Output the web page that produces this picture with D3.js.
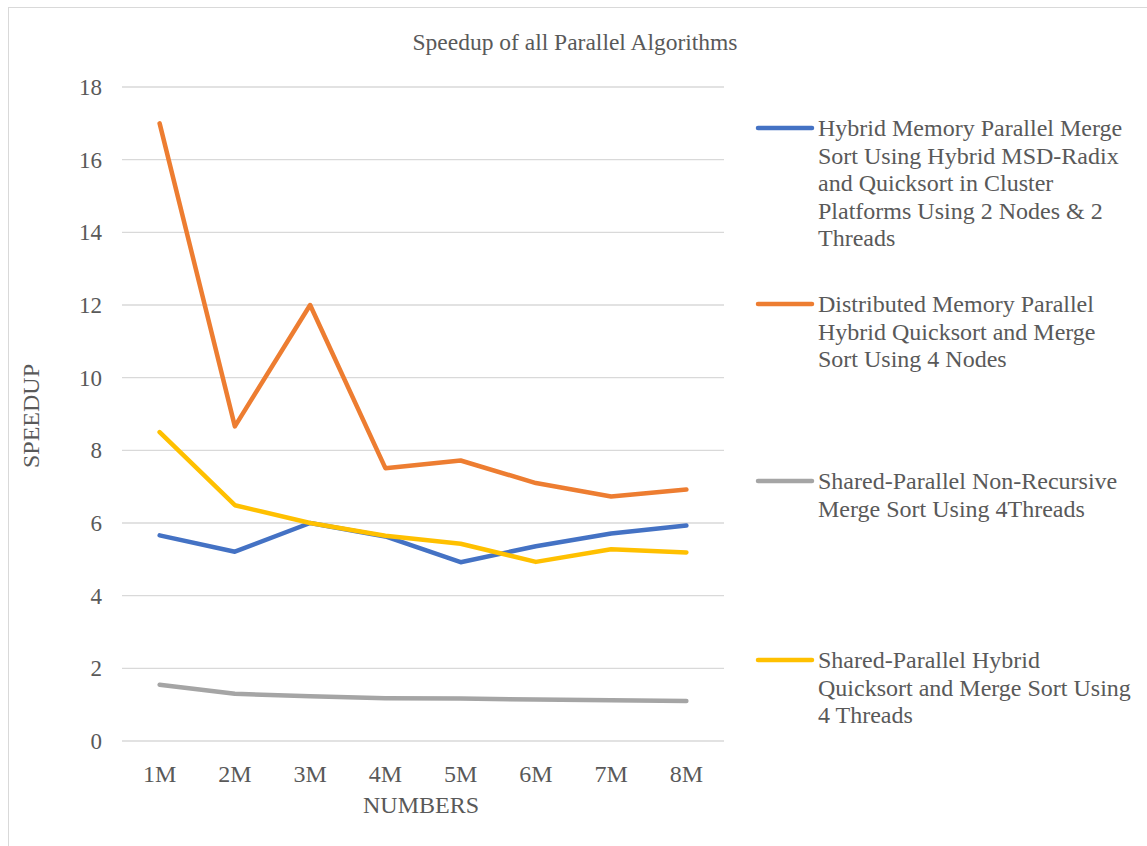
<!DOCTYPE html>
<html>
<head>
<meta charset="utf-8">
<script src="https://cdn.jsdelivr.net/npm/d3@7"></script>
<style>
  body { margin: 0; background: #fff; }
  text { font-family: "Liberation Serif", "Times New Roman", serif; fill: #595959; }
</style>
</head>
<body>
<div id="chart-area"></div>
<script>
const categories = ["1M", "2M", "3M", "4M", "5M", "6M", "7M", "8M"];
const yTicks = [0, 2, 4, 6, 8, 10, 12, 14, 16, 18];

const hybridCluster = [5.66, 5.21, 6.0, 5.63, 4.92, 5.36, 5.71, 5.93];
const distributed = [17.0, 8.66, 12.0, 7.51, 7.72, 7.1, 6.73, 6.92];
const sharedNonRec = [1.55, 1.30, 1.23, 1.18, 1.17, 1.14, 1.12, 1.10];
const sharedHybrid = [8.5, 6.49, 6.0, 5.65, 5.43, 4.93, 5.28, 5.19];

const seriesNames = [
  ["Hybrid Memory Parallel Merge", "Sort Using Hybrid MSD-Radix", "and Quicksort in Cluster", "Platforms Using 2 Nodes & 2", "Threads"],
  ["Distributed Memory Parallel", "Hybrid Quicksort and Merge", "Sort Using 4 Nodes"],
  ["Shared-Parallel Non-Recursive", "Merge Sort Using 4Threads"],
  ["Shared-Parallel Hybrid", "Quicksort and Merge Sort Using", "4 Threads"]
];
const colors = ["#4472C4", "#ED7D31", "#A5A5A5", "#FFC000"];

const series = [hybridCluster, distributed, sharedNonRec, sharedHybrid].map((values, i) => ({
  name: seriesNames[i], color: colors[i], values: values
}));

const width = 1147, height = 846;
const plot = { left: 122, right: 724, top: 87, bottom: 741 };

const svg = d3.select("#chart-area").append("svg")
    .attr("width", width)
    .attr("height", height);

// chart border
svg.append("rect")
    .attr("x", 8.5).attr("y", 7.5)
    .attr("width", width).attr("height", height)
    .attr("fill", "none")
    .attr("stroke", "#D9D9D9");

const x = d3.scaleBand()
    .domain(categories)
    .range([plot.left, plot.right]);

const y = d3.scaleLinear()
    .domain([0, 18])
    .range([plot.bottom, plot.top]);

// gridlines
svg.append("g").selectAll("line")
    .data(yTicks)
    .enter().append("line")
    .attr("x1", plot.left).attr("x2", plot.right)
    .attr("y1", d => y(d)).attr("y2", d => y(d))
    .attr("stroke", "#D9D9D9")
    .attr("stroke-width", 1.3);

// y labels
svg.append("g").selectAll("text")
    .data(yTicks)
    .enter().append("text")
    .attr("x", 102)
    .attr("y", d => y(d))
    .attr("dy", "0.35em")
    .attr("text-anchor", "end")
    .attr("font-size", 23)
    .text(d => d);

// x labels
svg.append("g").selectAll("text")
    .data(categories)
    .enter().append("text")
    .attr("x", d => x(d) + x.bandwidth() / 2)
    .attr("y", 774)
    .attr("dy", "0.35em")
    .attr("text-anchor", "middle")
    .attr("font-size", 24)
    .text(d => d);

// titles
svg.append("text")
    .attr("x", 575).attr("y", 42)
    .attr("dy", "0.35em")
    .attr("text-anchor", "middle")
    .attr("font-size", 23.5)
    .text("Speedup of all Parallel Algorithms");

svg.append("text")
    .attr("x", 421).attr("y", 805)
    .attr("dy", "0.35em")
    .attr("text-anchor", "middle")
    .attr("font-size", 24)
    .text("NUMBERS");

svg.append("text")
    .attr("transform", "translate(31,416) rotate(-90)")
    .attr("dy", "0.35em")
    .attr("text-anchor", "middle")
    .attr("font-size", 24)
    .text("SPEEDUP");

// lines
const line = d3.line()
    .x((d, i) => x(categories[i]) + x.bandwidth() / 2)
    .y(d => y(d));

svg.append("g").selectAll("path")
    .data(series)
    .enter().append("path")
    .attr("d", d => line(d.values))
    .attr("fill", "none")
    .attr("stroke", d => d.color)
    .attr("stroke-width", 4.5)
    .attr("stroke-linecap", "round")
    .attr("stroke-linejoin", "round");

// legend
const legendY = [128, 304, 481, 660];
const legend = svg.append("g").selectAll("g")
    .data(series)
    .enter().append("g")
    .attr("transform", (d, i) => `translate(758,${legendY[i]})`);

legend.append("line")
    .attr("x1", 0).attr("x2", 54)
    .attr("stroke", d => d.color)
    .attr("stroke-width", 4.5)
    .attr("stroke-linecap", "round");

legend.append("text")
    .attr("x", 60)
    .attr("font-size", 24)
    .selectAll("tspan")
    .data(d => d.name)
    .enter().append("tspan")
    .attr("x", 60)
    .attr("y", (d, i) => i * 27.5)
    .attr("dy", "0.35em")
    .text(d => d);
</script>
</body>
</html>
